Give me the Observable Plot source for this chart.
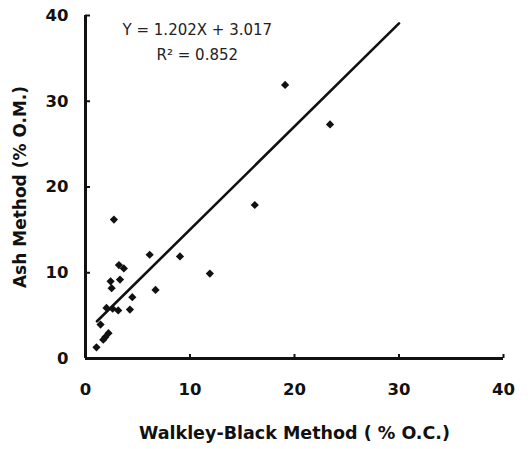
<!DOCTYPE html>
<html>
<head>
<meta charset="utf-8">
<script src="https://cdn.jsdelivr.net/npm/d3@7"></script>
<script src="https://cdn.jsdelivr.net/npm/@observablehq/plot@0.6"></script>
<style>
  html, body { margin: 0; padding: 0; background: #fff; }
</style>
</head>
<body>
<div id="chart"></div>
<script>
// Walkley-Black (% O.C.) vs Ash method (% O.M.)
const wbX  = [19.1, 23.4, 16.2, 2.72, 6.14, 9.04, 11.9, 3.2, 3.67, 2.4, 3.3, 2.5, 6.7, 4.48, 2.01, 2.6, 3.13, 4.25, 1.44, 2.2, 1.9, 1.7, 1.05];
const ashY = [31.9, 27.3, 17.9, 16.2, 12.1, 11.9, 9.9, 10.9, 10.5, 9.0, 9.2, 8.2, 8.0, 7.15, 5.9, 5.8, 5.6, 5.7, 3.96, 2.95, 2.5, 2.2, 1.3];

const slope = 1.202;
const intercept = 3.017;
const fitRange = [1.1, 30];
const eqLines = ["Y = 1.202X + 3.017", "R\u00B2 = 0.852"];
const xTicks = [0, 10, 20, 30, 40];
const yTicks = [0, 10, 20, 30, 40];
const xTitle = "Walkley-Black Method ( % O.C.)";
const yTitle = "Ash Method (% O.M.)";

const points = wbX.map((x, i) => ({x, y: ashY[i]}));
const fit = fitRange.map(x => ({x, y: slope * x + intercept}));

const chart = Plot.plot({
  width: 528,
  height: 449,
  marginLeft: 85,
  marginRight: 25,
  marginTop: 15,
  marginBottom: 91,
  style: {fontFamily: "'DejaVu Sans', sans-serif", color: "#111", background: "#fff"},
  x: {domain: [0, 40]},
  y: {domain: [0, 40]},
  marks: [
    Plot.axisX({ticks: xTicks, tickSize: -4, tickPadding: 29, fontSize: 16.5, fontWeight: "bold", label: null, strokeWidth: 2}),
    Plot.axisY({ticks: yTicks, tickSize: -5, tickPadding: 22, fontSize: 16.5, fontWeight: "bold", label: null, strokeWidth: 2}),
    Plot.ruleX([0], {stroke: "#111", strokeWidth: 3}),
    Plot.ruleY([0], {stroke: "#111", strokeWidth: 3}),
    Plot.line(fit, {x: "x", y: "y", stroke: "#111", strokeWidth: 2.6}),
    Plot.dot(points, {x: "x", y: "y", symbol: "diamond2", r: 3.7, fill: "#111", stroke: "none"}),
    Plot.text([eqLines[0]], {x: 10.7, y: 38.3, fontSize: 15, fill: "#222"}),
    Plot.text([eqLines[1]], {x: 10.7, y: 35.4, fontSize: 15, fill: "#222"}),
    Plot.text([xTitle], {frameAnchor: "bottom", dy: 75, textAnchor: "middle", lineAnchor: "middle", fontSize: 17.5, fontWeight: "bold", fill: "#111"}),
    Plot.text([yTitle], {frameAnchor: "left", dx: -65, rotate: -90, textAnchor: "middle", lineAnchor: "middle", fontSize: 17, fontWeight: "bold", fill: "#111"})
  ]
});
document.getElementById("chart").appendChild(chart);
</script>
</body>
</html>
